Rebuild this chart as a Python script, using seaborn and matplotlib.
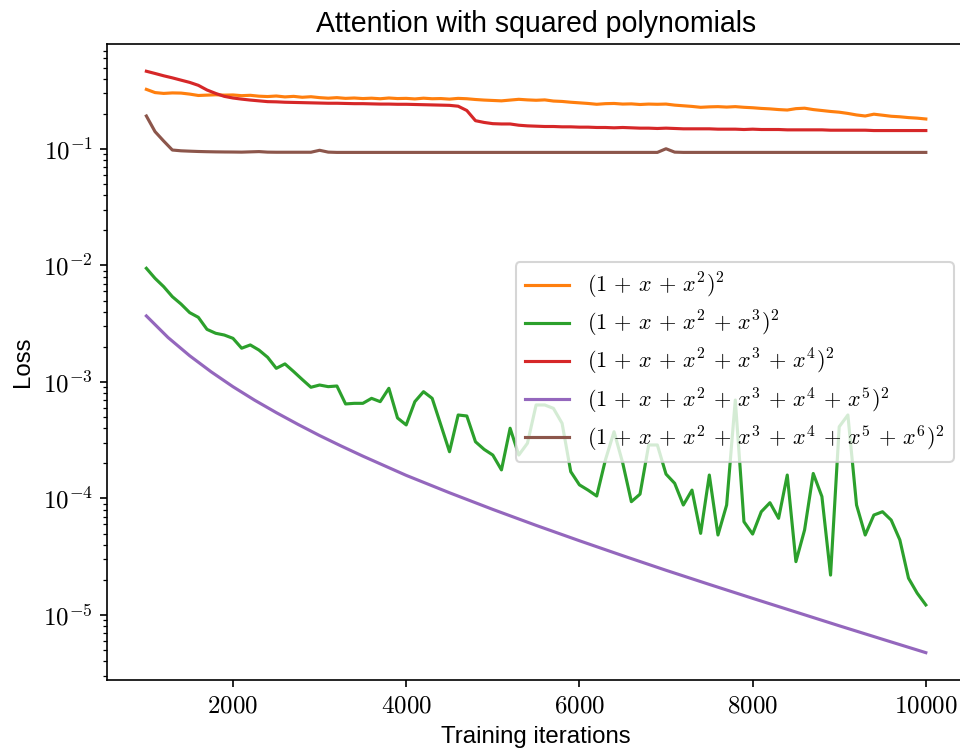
import numpy as np
import pandas as pd
import matplotlib
matplotlib.use("Agg")
import matplotlib.pyplot as plt
import seaborn as sns
from matplotlib.ticker import FuncFormatter, LogLocator, NullFormatter

# ---------------- data ----------------
iters = list(range(1000, 10001, 100))

labels = [
    r"$(1\,+\,x\,+\,x^2)^2$",
    r"$(1\,+\,x\,+\,x^2\,+\,x^3)^2$",
    r"$(1\,+\,x\,+\,x^2\,+\,x^3\,+\,x^4)^2$",
    r"$(1\,+\,x\,+\,x^2\,+\,x^3\,+\,x^4\,+\,x^5)^2$",
    r"$(1\,+\,x\,+\,x^2\,+\,x^3\,+\,x^4\,+\,x^5\,+\,x^6)^2$",
]
colors = ["#ff7f0e", "#2ca02c", "#d62728", "#9467bd", "#8c564b"]

loss_deg2 = [
    0.325, 0.305, 0.300, 0.303, 0.302, 0.296, 0.288, 0.290, 0.292, 0.290,
    0.291, 0.287, 0.289, 0.284, 0.282, 0.285, 0.280, 0.283, 0.278, 0.281,
    0.276, 0.273, 0.276, 0.272, 0.274, 0.271, 0.273, 0.270, 0.274, 0.271,
    0.272, 0.269, 0.273, 0.270, 0.271, 0.268, 0.272, 0.270, 0.266, 0.263,
    0.261, 0.259, 0.263, 0.267, 0.264, 0.262, 0.264, 0.258, 0.256, 0.252,
    0.249, 0.246, 0.242, 0.245, 0.246, 0.243, 0.244, 0.241, 0.243, 0.242,
    0.243, 0.238, 0.235, 0.232, 0.228, 0.230, 0.231, 0.229, 0.231, 0.228,
    0.226, 0.223, 0.221, 0.218, 0.216, 0.222, 0.224, 0.218, 0.214, 0.210,
    0.207, 0.202, 0.196, 0.192, 0.199, 0.195, 0.191, 0.189, 0.186, 0.184,
    0.181,
]

loss_deg3 = [
    9.46e-3, 7.76e-3, 6.58e-3, 5.40e-3, 4.67e-3, 3.94e-3, 3.59e-3, 2.83e-3, 2.62e-3, 2.53e-3,
    2.37e-3, 1.95e-3, 2.08e-3, 1.88e-3, 1.63e-3, 1.31e-3, 1.43e-3, 1.23e-3, 1.05e-3, 9.01e-4,
    9.42e-4, 9.12e-4, 9.24e-4, 6.48e-4, 6.56e-4, 6.56e-4, 7.24e-4, 6.78e-4, 8.83e-4, 4.91e-4,
    4.28e-4, 6.78e-4, 8.26e-4, 7.24e-4, 4.28e-4, 2.52e-4, 5.21e-4, 5.11e-4, 3.07e-4, 2.64e-4,
    2.36e-4, 1.76e-4, 4.01e-4, 2.36e-4, 2.98e-4, 6.35e-4, 6.35e-4, 5.94e-4, 4.42e-4, 1.70e-4,
    1.31e-4, 1.18e-4, 1.05e-4, 2.14e-4, 3.74e-4, 2.02e-4, 9.39e-5, 1.09e-4, 2.88e-4, 2.88e-4,
    1.62e-4, 1.35e-4, 8.79e-5, 1.18e-4, 5.02e-5, 1.59e-4, 4.86e-5, 8.79e-5, 7.00e-4, 6.32e-5,
    4.95e-5, 7.70e-5, 9.20e-5, 6.76e-5, 1.59e-4, 2.87e-5, 5.37e-5, 1.64e-4, 1.04e-4, 2.20e-5,
    4.13e-4, 5.21e-4, 8.79e-5, 4.86e-5, 7.21e-5, 7.70e-5, 6.53e-5, 4.41e-5, 2.07e-5, 1.54e-5,
    1.22e-5,
]

loss_deg4 = [
    0.465, 0.445, 0.425, 0.408, 0.390, 0.373, 0.352, 0.321, 0.300, 0.283,
    0.274, 0.268, 0.263, 0.259, 0.255, 0.254, 0.252, 0.251, 0.250, 0.249,
    0.248, 0.247, 0.247, 0.246, 0.245, 0.245, 0.244, 0.243, 0.243, 0.242,
    0.242, 0.241, 0.240, 0.239, 0.238, 0.237, 0.233, 0.214, 0.175, 0.169,
    0.165, 0.164, 0.164, 0.160, 0.158, 0.157, 0.156, 0.156, 0.155, 0.155,
    0.154, 0.154, 0.153, 0.153, 0.152, 0.153, 0.152, 0.151, 0.151, 0.150,
    0.151, 0.150, 0.149, 0.149, 0.149, 0.149, 0.148, 0.148, 0.148, 0.147,
    0.148, 0.147, 0.147, 0.147, 0.146, 0.146, 0.146, 0.146, 0.146, 0.145,
    0.145, 0.145, 0.145, 0.145, 0.144, 0.144, 0.144, 0.144, 0.144, 0.144,
    0.144,
]

iters_deg5 = [1000, 1250, 1500, 1750, 2000, 2250, 2500, 2750, 3000, 3250,
              3500, 3750, 4000, 4500, 5000, 5500, 6000, 6500, 7000, 7500,
              8000, 8500, 9000, 9500, 10000]
loss_deg5 = [3.69e-3, 2.41e-3, 1.68e-3, 1.22e-3, 9.11e-4, 6.98e-4, 5.46e-4, 4.33e-4,
             3.47e-4, 2.82e-4, 2.31e-4, 1.91e-4, 1.58e-4, 1.12e-4, 8.06e-5, 5.88e-5,
             4.34e-5, 3.23e-5, 2.42e-5, 1.83e-5, 1.39e-5, 1.06e-5, 8.08e-6, 6.19e-6,
             4.75e-6]

loss_deg6 = [
    0.192, 0.141, 0.117, 0.098, 0.0965, 0.0958, 0.0952, 0.0948, 0.0945, 0.0943,
    0.0942, 0.0940, 0.0945, 0.0950, 0.0940, 0.0938, 0.0938, 0.0938, 0.0938, 0.0938,
    0.0975, 0.0940, 0.0935, 0.0935, 0.0935, 0.0935, 0.0935, 0.0935, 0.0935, 0.0935,
    0.0935, 0.0935, 0.0935, 0.0935, 0.0935, 0.0935, 0.0935, 0.0935, 0.0935, 0.0935,
    0.0935, 0.0935, 0.0935, 0.0935, 0.0935, 0.0935, 0.0935, 0.0935, 0.0935, 0.0935,
    0.0935, 0.0935, 0.0935, 0.0935, 0.0935, 0.0935, 0.0935, 0.0935, 0.0935, 0.0935,
    0.1005, 0.0940, 0.0935, 0.0935, 0.0935, 0.0935, 0.0935, 0.0935, 0.0935, 0.0935,
    0.0935, 0.0935, 0.0935, 0.0935, 0.0935, 0.0935, 0.0935, 0.0935, 0.0935, 0.0935,
    0.0935, 0.0935, 0.0935, 0.0935, 0.0935, 0.0935, 0.0935, 0.0935, 0.0935, 0.0935,
    0.0935,
]

title = "Attention with squared polynomials"
xlabel = "Training iterations"
ylabel = "Loss"

# ---------------- style ----------------
plt.rcParams["font.family"] = ["Liberation Sans", "DejaVu Sans"]
plt.rcParams["mathtext.fontset"] = "cm"

series_x = [iters, iters, iters, iters_deg5, iters]
series_y = [loss_deg2, loss_deg3, loss_deg4, loss_deg5, loss_deg6]
frames = []
for lab, xs, ys in zip(labels, series_x, series_y):
    frames.append(pd.DataFrame({"iter": xs, "loss": ys, "series": lab}))
df = pd.concat(frames, ignore_index=True)

fig = plt.figure(figsize=(6.4, 755 / 150), dpi=150)
ax = fig.add_axes([107.4 / 960, 75 / 755, 857.4 / 960, 636 / 755])

sns.lineplot(data=df, x="iter", y="loss", hue="series", hue_order=labels,
             palette=dict(zip(labels, colors)), estimator=None, sort=False,
             linewidth=1.5, ax=ax)

ax.set_yscale("log")
ax.set_xlim(550, 10450)
ax.set_ylim(10 ** -5.558, 10 ** -0.0987)
ax.set_xticks([2000, 4000, 6000, 8000, 10000])
ax.xaxis.set_major_formatter(FuncFormatter(lambda v, p: r"$%d$" % int(round(v))))
ax.yaxis.set_major_locator(LogLocator(base=10))
ax.yaxis.set_major_formatter(
    FuncFormatter(lambda v, p: r"$10^{%d}$" % int(round(np.log10(v)))))
ax.yaxis.set_minor_locator(LogLocator(base=10, subs=np.arange(2, 10)))
ax.yaxis.set_minor_formatter(NullFormatter())
ax.tick_params(axis="both", labelsize=12)
ax.tick_params(axis="x", pad=3)

ax.set_title(title, fontsize=13.7)
ax.set_xlabel(xlabel, fontsize=11.5)
ax.set_ylabel(ylabel, fontsize=11.5)

handles, labs = ax.get_legend_handles_labels()
ax.legend(handles, labs, loc="center right", fontsize=10.7, labelspacing=0.36)

fig.savefig("out.png", dpi=150)
